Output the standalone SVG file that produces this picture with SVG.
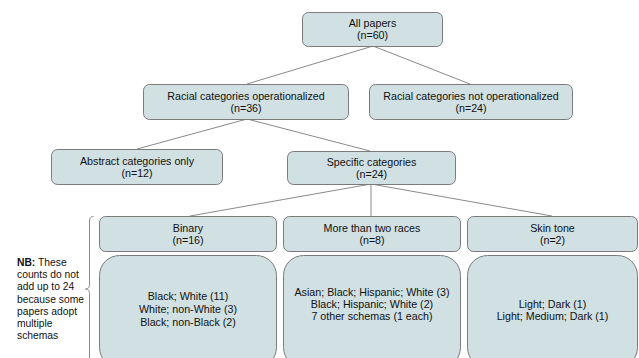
<svg xmlns="http://www.w3.org/2000/svg" width="639" height="358" viewBox="0 0 639 358">
<style>
.bx{fill:#d0e0e3;stroke:#7b7b7b;stroke-width:1}
.t{font-family:"Liberation Sans",Arial,sans-serif;font-size:10.7px;fill:#111;text-anchor:middle}
.nb{font-family:"Liberation Sans",Arial,sans-serif;font-size:10.3px;fill:#111}
.ln{stroke:#8a8a8a;stroke-width:1;fill:none}
</style>
<rect width="639" height="358" fill="#fff"/>
<g id="connectors">
<line class="ln" x1="373" y1="46" x2="247" y2="84"/>
<line class="ln" x1="373" y1="46" x2="470" y2="84"/>
<line class="ln" x1="247" y1="119" x2="137" y2="149"/>
<line class="ln" x1="247" y1="119" x2="370" y2="151"/>
<line class="ln" x1="371" y1="184" x2="190" y2="216"/>
<line class="ln" x1="371" y1="184" x2="371" y2="216"/>
<line class="ln" x1="371" y1="184" x2="552" y2="216"/>
</g>
<g id="all-papers">
<rect class="bx" x="302.5" y="12.5" width="140" height="34" rx="6"/>
<text class="t" x="372.5" y="27">All papers</text>
<text class="t" x="372.5" y="39">(n=60)</text>
</g>
<g id="racial-op">
<rect class="bx" x="143.5" y="84.5" width="205" height="35" rx="6"/>
<text class="t" x="246" y="99.5">Racial categories operationalized</text>
<text class="t" x="246" y="112">(n=36)</text>
</g>
<g id="racial-not-op">
<rect class="bx" x="369.5" y="84.5" width="203" height="35" rx="6"/>
<text class="t" x="471" y="99.5">Racial categories not operationalized</text>
<text class="t" x="471" y="112">(n=24)</text>
</g>
<g id="abstract">
<rect class="bx" x="51.5" y="149.5" width="171" height="35" rx="6"/>
<text class="t" x="137" y="164.5">Abstract categories only</text>
<text class="t" x="137" y="177">(n=12)</text>
</g>
<g id="specific">
<rect class="bx" x="287.5" y="151.5" width="168" height="33" rx="6"/>
<text class="t" x="371.5" y="165.5">Specific categories</text>
<text class="t" x="371.5" y="178">(n=24)</text>
</g>
<g id="binary">
<rect class="bx" x="99.5" y="216.5" width="177" height="35" rx="6"/>
<text class="t" x="188" y="231.5">Binary</text>
<text class="t" x="188" y="244">(n=16)</text>
</g>
<g id="more-than-two">
<rect class="bx" x="283.5" y="216.5" width="177" height="35" rx="6"/>
<text class="t" x="372" y="231.5">More than two races</text>
<text class="t" x="372" y="244">(n=8)</text>
</g>
<g id="skin-tone">
<rect class="bx" x="467.5" y="216.5" width="170" height="35" rx="6"/>
<text class="t" x="552.5" y="231.5">Skin tone</text>
<text class="t" x="552.5" y="244">(n=2)</text>
</g>
<g id="binary-detail">
<rect class="bx" x="99.5" y="255.5" width="177" height="112" rx="20"/>
<text class="t" x="188" y="299.5">Black; White (11)</text>
<text class="t" x="188" y="312.5">White; non-White (3)</text>
<text class="t" x="188" y="325.5">Black; non-Black (2)</text>
</g>
<g id="more-detail">
<rect class="bx" x="283.5" y="255.5" width="177" height="112" rx="20"/>
<text class="t" x="372" y="295.5">Asian; Black; Hispanic; White (3)</text>
<text class="t" x="372" y="307.5">Black; Hispanic; White (2)</text>
<text class="t" x="372" y="319.5">7 other schemas (1 each)</text>
</g>
<g id="skin-detail">
<rect class="bx" x="467.5" y="255.5" width="170" height="112" rx="20"/>
<text class="t" x="552.5" y="307.5">Light; Dark (1)</text>
<text class="t" x="552.5" y="319.5">Light; Medium; Dark (1)</text>
</g>
<g id="note">
<path class="ln" d="M93.5 216.5 Q89.5 216.5 89.5 221 L89.5 284.5 Q89.5 289 85.5 289 Q89.5 289 89.5 293.5 L89.5 360"/>
<text class="nb" x="17" y="266"><tspan font-weight="bold">NB:</tspan> These</text>
<text class="nb" x="17" y="278.2">counts do not</text>
<text class="nb" x="17" y="290.4">add up to 24</text>
<text class="nb" x="17" y="302.6">because some</text>
<text class="nb" x="17" y="314.8">papers adopt</text>
<text class="nb" x="17" y="327">multiple</text>
<text class="nb" x="17" y="339.2">schemas</text>
</g>
</svg>
